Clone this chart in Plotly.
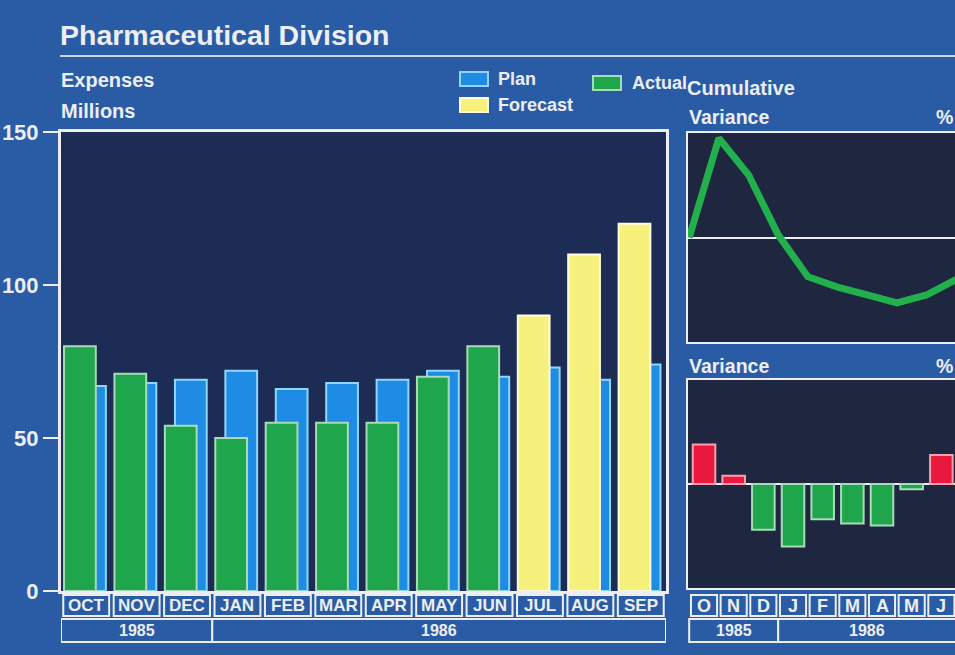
import plotly.graph_objects as go

# ---------------- data ----------------
MONTHS = ["OCT", "NOV", "DEC", "JAN", "FEB", "MAR", "APR", "MAY", "JUN", "JUL", "AUG", "SEP"]
MONTH_INITIALS = ["O", "N", "D", "J", "F", "M", "A", "M", "J"]
YEARS = ["1985", "1986"]
YEAR_FIRST_MONTH = [0, 3]          # index of first month belonging to each year
PLAN = [67, 68, 69, 72, 66, 68, 69, 72, 70, 73, 69, 74]
ACTUAL = [80, 71, 54, 50, 55, 55, 55, 70, 80]        # OCT..JUN
FORECAST = [90, 110, 120]                              # JUL..SEP
VARIANCE = [19, 4, -22, -30, -17, -19, -20, -2.5, 14]  # % monthly, OCT..JUN
CUM_START = 0
CUM_VARIANCE = [19, 12, 0.5, -7.5, -9.5, -11, -12.5, -11, -8]  # % cumulative at month ends
Y_TICKS = [0, 50, 100, 150]

# ---------------- style ----------------
W, H = 955, 655
FONT = "Liberation Sans, Arial, Helvetica, sans-serif"
PAPER = "#2a5ca5"
MAIN_BG = "#1c2c55"
SIDE_BG = "#1f2640"
WHITE = "#eceef4"
GREEN = "#1fa54c"
GREEN_EDGE = "#a8dcb8"
BLUE = "#1e8ce4"
BLUE_EDGE = "#8fd6ff"
YELLOW = "#f6f07c"
YELLOW_EDGE = "#fffbe0"
RED = "#e8183f"
RED_EDGE = "#f7a0b0"
LINE_GREEN = "#22b04c"


def px(x):
    return x / W


def py(y):
    return 1 - y / H


def bold(size, color=WHITE):
    return dict(family=FONT, size=size, color=color, weight="bold")


n = len(MONTHS)
idx = list(range(n))
n_act = len(ACTUAL)

fig = go.Figure()

# main chart bars
fig.add_trace(go.Bar(x=idx, y=PLAN, offset=-0.24, width=0.63,
                     marker=dict(color=BLUE, line=dict(color=BLUE_EDGE, width=2)),
                     name="Plan", xaxis="x", yaxis="y"))
fig.add_trace(go.Bar(x=idx[:n_act], y=ACTUAL, offset=-0.44, width=0.63,
                     marker=dict(color=GREEN, line=dict(color=GREEN_EDGE, width=2)),
                     name="Actual", xaxis="x", yaxis="y"))
fig.add_trace(go.Bar(x=idx[n_act:], y=FORECAST, offset=-0.44, width=0.63,
                     marker=dict(color=YELLOW, line=dict(color=YELLOW_EDGE, width=2)),
                     name="Forecast", xaxis="x", yaxis="y"))

# cumulative variance line (starts at left edge, points at month ends)
nv = len(CUM_VARIANCE)
fig.add_trace(go.Scatter(x=[-0.5] + [i + 0.5 for i in range(nv)],
                         y=[CUM_START] + CUM_VARIANCE,
                         mode="lines", line=dict(color=LINE_GREEN, width=7),
                         xaxis="x2", yaxis="y2"))

# monthly variance bars
fig.add_trace(go.Bar(x=list(range(len(VARIANCE))), y=VARIANCE, width=0.76,
                     marker=dict(color=[RED if v > 0 else GREEN for v in VARIANCE],
                                 line=dict(color=[RED_EDGE if v > 0 else GREEN_EDGE for v in VARIANCE],
                                           width=2)),
                     xaxis="x3", yaxis="y3"))

main_x = [px(61), px(666)]
side_x = [px(688), 1.0]

axis_common = dict(showgrid=False, zeroline=False, showline=True, linecolor=WHITE,
                   fixedrange=True, automargin=False)

fig.update_layout(
    template="none",
    width=W, height=H, autosize=False,
    margin=dict(l=0, r=0, t=0, b=0, pad=0, autoexpand=False),
    paper_bgcolor=PAPER, plot_bgcolor=MAIN_BG,
    barmode="overlay", showlegend=False,
    font=dict(family=FONT, color=WHITE),
    xaxis=dict(domain=main_x, range=[-0.5, n - 0.5], showticklabels=False, ticks="",
               mirror=True, anchor="y", linewidth=3, **axis_common),
    yaxis=dict(domain=[py(591), py(132)], range=[0, 150], tickvals=Y_TICKS,
               tickfont=bold(22), ticks="outside", ticklen=15, tickwidth=2, tickcolor=WHITE,
               mirror=True, anchor="x", linewidth=3, **axis_common),
    xaxis2=dict(domain=side_x, range=[-0.54, 8.46], showticklabels=False, ticks="",
                mirror=True, anchor="y2", linewidth=2, **axis_common),
    yaxis2=dict(domain=[py(342), py(133)], range=[-20, 20], showticklabels=False, ticks="",
                showgrid=False, showline=True, linecolor=WHITE, linewidth=2, automargin=False,
                zeroline=True, zerolinecolor=WHITE, zerolinewidth=2, anchor="x2", fixedrange=True),
    xaxis3=dict(domain=side_x, range=[-0.54, 8.46], showticklabels=False, ticks="",
                mirror=True, anchor="y3", linewidth=2, **axis_common),
    yaxis3=dict(domain=[py(588), py(380)], range=[-50, 50], showticklabels=False, ticks="",
                showgrid=False, showline=True, linecolor=WHITE, linewidth=2, automargin=False,
                zeroline=True, zerolinecolor=WHITE, zerolinewidth=2, anchor="x3", fixedrange=True),
)

shapes = []
annotations = []

# side panel backgrounds
for ax in ("x2", "x3"):
    yax = "y2" if ax == "x2" else "y3"
    shapes.append(dict(type="rect", xref=f"{ax} domain", yref=f"{yax} domain",
                       x0=0, x1=1, y0=0, y1=1, fillcolor=SIDE_BG, line=dict(width=0),
                       layer="below"))

# title underline
shapes.append(dict(type="line", xref="paper", yref="paper", x0=px(60), x1=1.0,
                   y0=py(56), y1=py(56), line=dict(color="#c8d2e6", width=2)))


def month_boxes(xref, labels, half, size, last_index):
    for i, lab in enumerate(labels):
        shapes.append(dict(type="rect", xref=xref, yref="paper",
                           x0=i - half, x1=i + half, y0=py(616), y1=py(595),
                           fillcolor=PAPER, line=dict(color=WHITE, width=2)))
        annotations.append(dict(xref=xref, yref="paper", x=i, y=py(605.5), text=lab,
                                showarrow=False, font=bold(size), xanchor="center",
                                yanchor="middle"))
    for k, yr in enumerate(YEARS):
        a = YEAR_FIRST_MONTH[k] - 0.5
        b = (YEAR_FIRST_MONTH[k + 1] - 0.5) if k + 1 < len(YEARS) else last_index + 0.5
        shapes.append(dict(type="rect", xref=xref, yref="paper", x0=a, x1=b,
                           y0=py(642), y1=py(619), fillcolor=PAPER,
                           line=dict(color=WHITE, width=2)))
        annotations.append(dict(xref=xref, yref="paper", x=(a + b) / 2, y=py(630.5), text=yr,
                                showarrow=False, font=bold(16), xanchor="center",
                                yanchor="middle"))


month_boxes("x", MONTHS, 0.455, 17, n - 1)
month_boxes("x3", MONTH_INITIALS, 0.44, 18, len(MONTH_INITIALS) - 1)

# text labels
texts = [
    ("Pharmaceutical Division", 58, 35, 28.5),
    ("Expenses", 59, 80, 20),
    ("Millions", 59, 111, 20),
    ("Plan", 496, 79, 18),
    ("Forecast", 496, 105, 18),
    ("Actual", 630, 83, 18),
    ("Cumulative", 685, 88, 20),
    ("Variance", 687, 117, 19.5),
    ("%", 934, 117, 19.5),
    ("Variance", 687, 366, 19.5),
    ("%", 934, 366, 19.5),
]
for t, x, y, s in texts:
    annotations.append(dict(xref="paper", yref="paper", x=px(x), y=py(y), text=t,
                            showarrow=False, font=bold(s), xanchor="left", yanchor="middle"))

# legend swatches
swatches = [(460, 72, BLUE, BLUE_EDGE), (460, 98, YELLOW, YELLOW_EDGE), (593, 76, GREEN, GREEN_EDGE)]
for x, y, c, e in swatches:
    shapes.append(dict(type="rect", xref="paper", yref="paper", x0=px(x), x1=px(x + 28),
                       y0=py(y + 14), y1=py(y), fillcolor=c, line=dict(color=e, width=2)))

fig.update_layout(shapes=shapes, annotations=annotations)

fig.write_html(
    "out.html",
    config={"displayModeBar": False, "responsive": False},
    post_script="document.body.style.margin='0px';"
                "document.documentElement.style.overflow='hidden';"
                "document.body.style.overflow='hidden';",
)
